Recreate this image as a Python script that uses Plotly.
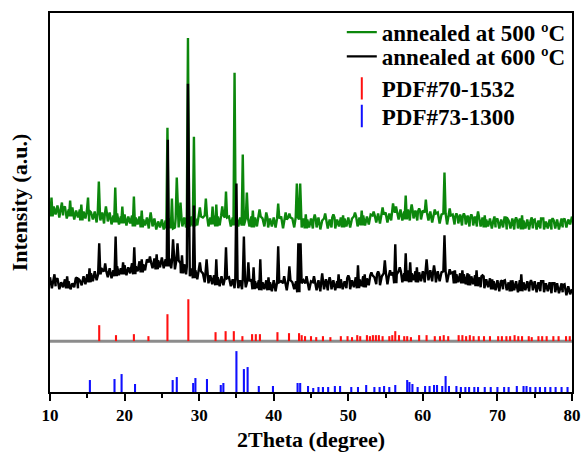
import plotly.graph_objects as go

# ---------------- data ----------------
TWO_THETA_START = 10.0
TWO_THETA_STEP = 0.25

# noisy background of the 500 ºC pattern, every 0.25 deg from 10 to 80 (one row = 5 deg)
bg_500 = [
    189, 176, 186, 178, 187, 175, 184, 177, 186, 174, 183, 176, 185, 173, 182, 175, 183, 172, 181, 174,
    182, 171, 180, 173, 181, 170, 179, 172, 180, 169, 178, 171, 180, 168, 177, 170, 179, 168, 176, 169,
    178, 167, 176, 169, 177, 166, 175, 168, 176, 165, 173, 167, 175, 164, 172, 166, 174, 163, 171, 165,
    173, 163, 172, 164, 174, 164, 173, 165, 174, 165, 173, 166, 175, 165, 174, 166, 176, 166, 174, 167,
    176, 166, 175, 167, 177, 166, 175, 168, 177, 166, 176, 167, 177, 165, 175, 167, 176, 166, 175, 167,
    176, 166, 175, 167, 177, 165, 174, 166, 176, 165, 175, 166, 176, 164, 174, 166, 175, 165, 174, 166,
    175, 165, 174, 166, 176, 164, 173, 165, 175, 164, 174, 165, 175, 163, 173, 165, 174, 164, 173, 165,
    174, 164, 173, 165, 175, 163, 172, 165, 174, 164, 173, 165, 175, 164, 173, 166, 175, 165, 174, 166,
    175, 165, 174, 166, 176, 166, 175, 167, 177, 167, 176, 168, 178, 168, 177, 170, 179, 169, 178, 171,
    180, 170, 179, 172, 182, 171, 180, 173, 183, 172, 181, 173, 183, 172, 181, 174, 182, 172, 181, 173,
    182, 171, 180, 172, 181, 170, 179, 171, 180, 169, 178, 170, 179, 168, 177, 169, 178, 168, 176, 169,
    178, 167, 176, 168, 177, 166, 175, 167, 176, 166, 174, 166, 175, 165, 173, 166, 174, 164, 172, 165,
    174, 164, 173, 165, 175, 163, 172, 164, 174, 163, 172, 164, 174, 163, 172, 164, 173, 163, 172, 164,
    173, 163, 172, 164, 174, 163, 171, 164, 173, 163, 172, 164, 173, 163, 171, 165, 174, 165, 173, 168,
    176,
]

# noisy background of the 600 ºC pattern
bg_600 = [
    115, 104, 112, 106, 114, 103, 110, 105, 113, 104, 111, 103, 109, 105, 114, 104, 112, 107, 116, 108,
    118, 110, 119, 111, 121, 112, 118, 114, 123, 113, 121, 115, 124, 114, 122, 116, 126, 117, 124, 118,
    127, 117, 125, 119, 129, 118, 126, 121, 131, 120, 128, 122, 133, 121, 130, 124, 134, 123, 132, 125,
    135, 124, 133, 126, 134, 124, 131, 123, 132, 121, 129, 119, 128, 118, 126, 116, 124, 114, 122, 113,
    121, 112, 119, 110, 118, 109, 117, 108, 117, 107, 115, 106, 116, 107, 114, 105, 115, 106, 113, 104,
    114, 104, 112, 103, 113, 105, 111, 102, 113, 103, 111, 104, 112, 102, 110, 103, 112, 102, 110, 101,
    112, 101, 110, 103, 111, 100, 109, 102, 112, 101, 110, 103, 111, 100, 109, 102, 112, 101, 109, 102,
    111, 101, 110, 102, 112, 101, 109, 103, 113, 102, 110, 103, 112, 102, 111, 104, 113, 103, 111, 104,
    114, 103, 112, 105, 115, 104, 113, 106, 116, 105, 114, 107, 117, 106, 115, 108, 118, 107, 116, 109,
    119, 108, 117, 110, 120, 109, 118, 111, 121, 110, 119, 111, 122, 110, 119, 112, 121, 110, 120, 111,
    121, 110, 120, 112, 122, 111, 119, 110, 121, 111, 120, 109, 121, 110, 119, 111, 120, 109, 118, 110,
    119, 109, 118, 108, 119, 107, 116, 108, 117, 106, 115, 105, 116, 104, 113, 105, 114, 103, 111, 102,
    112, 101, 111, 103, 112, 102, 110, 101, 112, 102, 111, 100, 112, 101, 110, 102, 111, 101, 109, 102,
    111, 100, 110, 101, 111, 100, 109, 101, 110, 99, 109, 100, 109, 99, 107, 100, 108, 97, 106, 98,
    103,
]

# diffraction peaks: position (deg) and top level
peaks_500_pos = [10.2, 11.6, 12.7, 14.2, 15.1, 16.55, 17.5, 18.75, 19.7, 21.25,
                 22.3, 23.5, 25.75, 26.35, 27.0, 27.5, 28.5, 29.3, 30.1, 30.9,
                 31.8, 32.3, 33.1, 33.6, 34.75, 35.85, 36.4, 37.2, 38.1, 39.0,
                 40.6, 41.6, 42.1, 43.1, 43.55, 44.3, 45.5, 46.9, 48.0, 49.3,
                 50.9, 51.8, 53.4, 54.6, 56.0, 56.4, 57.7, 58.5, 59.5, 60.4,
                 61.6, 62.9, 63.6, 64.5, 65.5, 66.5, 67.4, 68.3, 69.6, 71.1,
                 72.5, 73.3, 74.6, 76.0, 77.4, 78.6]
peaks_500_top = [195, 190, 192, 188, 195, 211, 186, 205, 186, 196,
                 182, 180, 265, 194, 215, 190, 355, 256, 185, 194,
                 186, 188, 186, 201, 320, 238, 200, 182, 183, 180,
                 189, 180, 179, 209, 209, 178, 178, 179, 178, 177,
                 180, 182, 181, 185, 189, 186, 197, 188, 184, 193,
                 183, 220, 184, 179, 179, 178, 181, 177, 176, 175,
                 175, 177, 175, 174, 174, 174]

peaks_600_pos = [10.6, 12.3, 13.6, 15.3, 16.6, 17.4, 18.8, 19.8, 21.3, 22.3,
                 23.4, 24.3, 25.8, 26.5, 27.1, 27.7, 28.5, 29.3, 30.1, 31.0,
                 32.3, 33.6, 35.0, 36.0, 36.6, 37.3, 38.2, 39.3, 40.6, 41.4,
                 42.1, 43.3, 43.6, 44.4, 45.4, 46.5, 47.5, 48.7, 50.0, 51.3,
                 52.2, 53.1, 54.0, 54.9, 55.6, 56.3, 56.9, 57.7, 58.3, 59.2,
                 60.5, 61.5, 62.9, 63.6, 64.3, 65.3, 66.2, 67.2, 68.0, 69.3,
                 70.6, 71.8, 73.2, 74.5, 76.0, 77.5, 78.6]
peaks_600_top = [118, 116, 115, 124, 149, 129, 156, 130, 145, 133,
                 136, 138, 253, 153, 149, 137, 309, 187, 130, 133,
                 133, 145, 209, 156, 130, 125, 133, 115, 146, 116,
                 126, 149, 149, 116, 116, 119, 115, 118, 117, 127,
                 118, 120, 121, 132, 122, 148, 125, 139, 130, 125,
                 133, 127, 157, 123, 122, 122, 118, 122, 117, 113,
                 112, 112, 118, 112, 111, 109, 109]

# reference cards: line position (deg) and relative intensity
pdf70_pos = [16.6, 18.85, 21.25, 23.2, 25.75, 28.55, 32.2, 33.55, 34.65, 35.8,
             37.1, 37.6, 38.15, 40.5, 42.05, 43.4, 43.75, 44.2, 45.0, 45.7,
             46.6, 47.6, 49.0, 49.9, 50.5, 51.2, 51.6, 52.5, 52.9, 53.3,
             53.7, 54.1, 54.6, 55.5, 55.9, 56.3, 56.8, 57.5, 57.9, 58.4,
             59.5, 60.5, 61.6, 62.3, 62.8, 63.4, 64.8, 65.3, 65.8, 66.3,
             66.8, 67.5, 68.2, 69.0, 70.1, 70.6, 71.2, 71.7, 72.3, 72.8,
             73.3, 74.2, 74.6, 75.5, 76.0, 76.6, 77.5, 78.2, 79.2, 79.7]
pdf70_int = [16, 6, 7, 5, 27, 42, 9, 10, 10, 5,
             7, 7, 7, 9, 8, 8, 6, 5, 5, 4,
             5, 4, 5, 5, 4, 6, 5, 6, 5, 6,
             6, 6, 5, 5, 6, 10, 6, 5, 5, 4,
             6, 6, 5, 5, 6, 5, 6, 6, 5, 6,
             5, 5, 5, 5, 5, 5, 5, 5, 6, 5,
             5, 5, 4, 5, 5, 5, 5, 5, 5, 5]

pdf73_pos = [15.35, 18.65, 19.6, 21.4, 26.45, 27.0, 29.2, 29.5, 31.05, 32.9,
             33.25, 35.0, 36.0, 36.5, 38.0, 39.9, 43.2, 43.55, 44.6, 45.3,
             46.0, 46.6, 47.3, 48.2, 48.9, 50.4, 51.3, 52.4, 53.5, 54.2,
             54.8, 55.5, 56.3, 57.9, 58.2, 58.6, 59.3, 60.3, 60.9, 61.5,
             61.9, 62.6, 63.05, 63.5, 64.5, 65.1, 65.7, 66.2, 66.9, 67.4,
             68.3, 69.1, 70.0, 70.9, 71.5, 72.6, 73.5, 73.9, 74.4, 75.1,
             75.7, 76.4, 77.1, 77.8, 78.6, 79.4]
pdf73_int = [12, 13, 18, 8, 12, 15, 9, 14, 13, 7,
             9, 41, 23, 25, 6, 6, 9, 9, 6, 4,
             5, 5, 5, 6, 6, 5, 5, 7, 5, 5,
             6, 5, 7, 12, 10, 8, 5, 6, 6, 7,
             7, 6, 16, 6, 6, 5, 5, 5, 5, 5,
             5, 5, 5, 5, 5, 6, 6, 6, 5, 5,
             5, 5, 5, 5, 5, 5]

# vertical offsets of the stacked panels
PDF70_BASE = 51
PDF73_BASE = 0

# ---------------- build ----------------
HALF_WIDTH = 0.15


def pattern(bg, ppos, ptop):
    xs = [TWO_THETA_START + i * TWO_THETA_STEP for i in range(len(bg))]
    pts = [(x, y) for x, y in zip(xs, bg)
           if all(abs(x - p) > HALF_WIDTH for p in ppos)]
    for p, t in zip(ppos, ptop):
        i = min(len(bg) - 1, max(0, round((p - TWO_THETA_START) / TWO_THETA_STEP)))
        foot = bg[i]
        pts += [(p - HALF_WIDTH, foot), (p, t), (p + HALF_WIDTH, foot)]
    pts.sort(key=lambda q: q[0])
    return [q[0] for q in pts], [q[1] for q in pts]


FONT = "Liberation Serif"
GREEN = "#0c870c"
RED = "#ff1010"
BLUE = "#1010ff"

x5, y5 = pattern(bg_500, peaks_500_pos, peaks_500_top)
x6, y6 = pattern(bg_600, peaks_600_pos, peaks_600_top)

fig = go.Figure()

fig.add_trace(go.Bar(x=pdf70_pos, y=pdf70_int, base=PDF70_BASE, width=0.28,
                     marker=dict(color=RED, line=dict(width=0)), showlegend=False))
fig.add_trace(go.Bar(x=pdf73_pos, y=pdf73_int, base=PDF73_BASE, width=0.28,
                     marker=dict(color=BLUE, line=dict(width=0)), showlegend=False))

fig.add_trace(go.Scatter(x=x5, y=y5, mode="lines", name="annealed at 500 ºC",
                         line=dict(color=GREEN, width=2.4), legend="legend"))
fig.add_trace(go.Scatter(x=x6, y=y6, mode="lines", name="annealed at 600 ºC",
                         line=dict(color="black", width=2.4), legend="legend2"))
fig.add_trace(go.Scatter(x=[None], y=[None], mode="markers", name="PDF#70-1532",
                         marker=dict(symbol="line-ns", size=16, color=RED,
                                     line=dict(width=2, color=RED)), legend="legend3"))
fig.add_trace(go.Scatter(x=[None], y=[None], mode="markers", name="PDF#73-1300",
                         marker=dict(symbol="line-ns", size=16, color=BLUE,
                                     line=dict(width=2, color=BLUE)), legend="legend4"))

fig.add_shape(type="line", xref="paper", x0=0, x1=1, yref="y",
              y0=PDF70_BASE, y1=PDF70_BASE, line=dict(color="#8c8c8c", width=3),
              layer="below")

LEG_FONT = dict(family=FONT, size=23, color="black", weight="bold")


def leg(y):
    return dict(x=0.559, xanchor="left", y=y, yanchor="middle",
                bgcolor="rgba(0,0,0,0)", borderwidth=0, font=LEG_FONT,
                itemsizing="trace")


fig.update_layout(
    width=584, height=452,
    margin=dict(l=50, r=12, t=12, b=60),
    paper_bgcolor="white", plot_bgcolor="white",
    font=dict(family=FONT, color="black", size=16, weight="bold"),
    barmode="overlay",
    showlegend=True,
    legend=leg(0.947),
    legend2=leg(0.883),
    legend3=leg(0.799),
    legend4=leg(0.726),
    xaxis=dict(range=[10, 80], showline=True, linewidth=2, linecolor="black",
               mirror=True, showgrid=False, zeroline=False, automargin=False,
               ticks="outside", ticklen=7, tickwidth=2, tickcolor="black",
               dtick=10, tick0=10,
               minor=dict(dtick=5, ticks="outside", ticklen=4, tickwidth=2,
                          tickcolor="black", showgrid=False),
               tickfont=dict(family=FONT, size=17, color="black", weight="bold"),
               title=dict(text="2Theta (degree)", standoff=8,
                          font=dict(family=FONT, size=22, color="black", weight="bold"))),
    yaxis=dict(range=[0, 380], showline=True, linewidth=2, linecolor="black",
               mirror=True, showgrid=False, zeroline=False, automargin=False,
               showticklabels=False, ticks="",
               title=dict(text="Intensity (a.u.)", standoff=14,
                          font=dict(family=FONT, size=22, color="black", weight="bold"))),
)

fig.write_html("out.html")
